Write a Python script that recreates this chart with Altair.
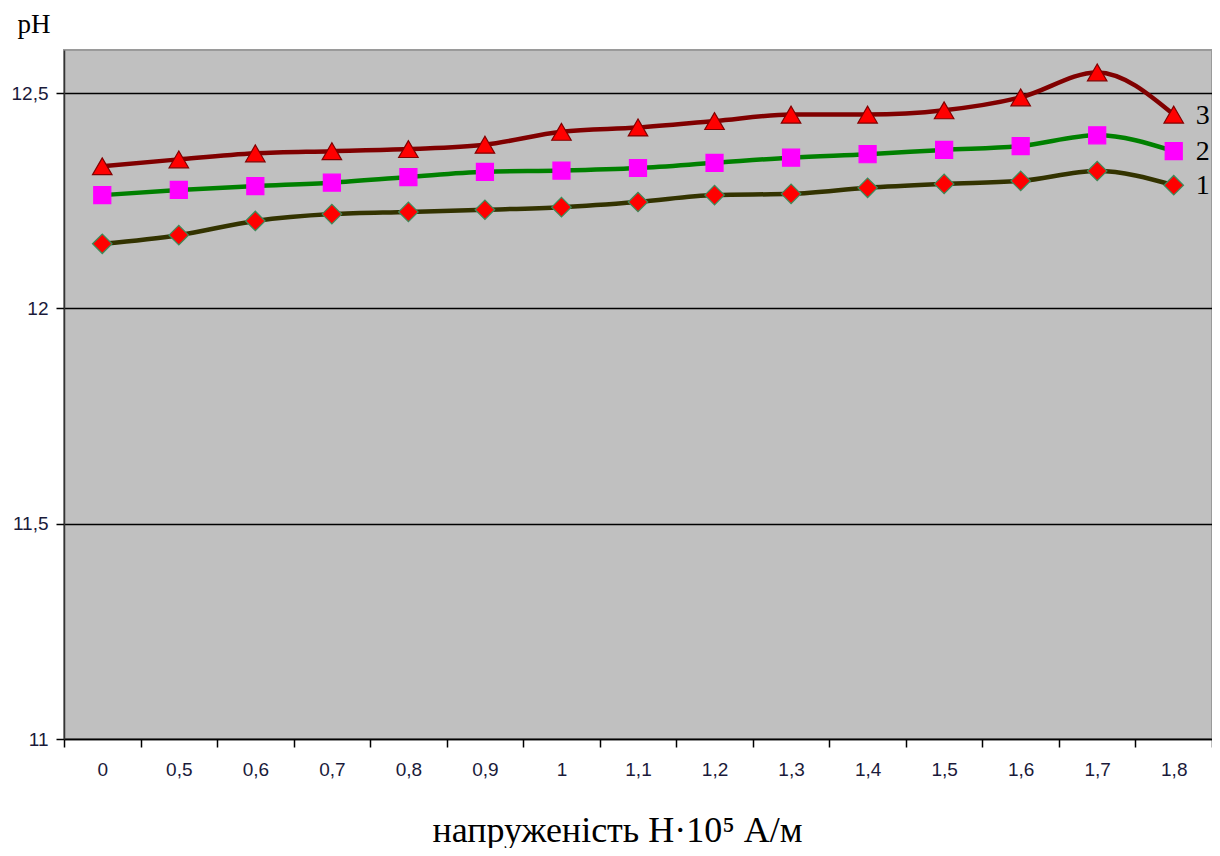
import altair as alt
import pandas as pd

x_labels = ["0", "0,5", "0,6", "0,7", "0,8", "0,9", "1", "1,1", "1,2", "1,3",
            "1,4", "1,5", "1,6", "1,7", "1,8"]
ph_1 = [12.150, 12.170, 12.203, 12.219, 12.224, 12.229, 12.235, 12.247, 12.263,
        12.266, 12.280, 12.289, 12.296, 12.319, 12.286]
ph_2 = [12.263, 12.275, 12.284, 12.292, 12.305, 12.317, 12.320, 12.326, 12.338,
        12.350, 12.358, 12.368, 12.377, 12.402, 12.365]
ph_3 = [12.330, 12.346, 12.360, 12.365, 12.370, 12.380, 12.410, 12.420, 12.435,
        12.450, 12.450, 12.460, 12.490, 12.548, 12.450]
series_names = ["1", "2", "3"]
y_ticks = [11, 11.5, 12, 12.5]

rows = []
for name, vals in zip(series_names, [ph_1, ph_2, ph_3]):
    for xl, v in zip(x_labels, vals):
        rows.append({"H": xl, "pH": v, "series": name})
df = pd.DataFrame(rows)

styles = {
    "1": dict(line="#333300", fill="#FF0000", stroke="#3C8C5A", shape="diamond", size=380),
    "2": dict(line="#008000", fill="#FF00FF", stroke="#FF00FF", shape="square", size=290),
    "3": dict(line="#800000", fill="#FF0000", stroke="#800000", shape="triangle-up", size=380),
}

SERIF = '"Liberation Serif", "Times New Roman", serif'
SANS = '"Liberation Sans", Arial, sans-serif'

x_enc = alt.X(
    "H:N", sort=x_labels, bandPosition=0.5,
    scale=alt.Scale(type="band", domain=x_labels, paddingInner=0, paddingOuter=0),
    axis=alt.Axis(
        title="напруженість H·10⁵ А/м", labelAngle=0, tickBand="extent",
        tickSize=8, tickColor="#000000", tickWidth=1.5,
        domainColor="#000000", domainWidth=1.5,
        labelFont=SANS, labelFontSize=19, labelColor="#1a1a3a", labelPadding=13,
        titleFont=SERIF, titleFontSize=36,
        titleFontWeight="normal", titleColor="#000000",
        titleX=553, titleY=102, titleAlign="center", titleBaseline="alphabetic",
        titleAnchor="start", grid=False,
    ),
)
y_enc = alt.Y(
    "pH:Q",
    scale=alt.Scale(domain=[11, 12.6], nice=False, zero=False),
    axis=alt.Axis(
        title="pH", values=y_ticks, titleAngle=0,
        labelExpr="replace(format(datum.value, '.1~f'), '.', ',')",
        tickSize=8, tickColor="#000000", tickWidth=1.5,
        domainColor="#333333", domainWidth=1.5,
        grid=True, gridColor="#000000", gridWidth=1.5,
        labelFont=SANS, labelFontSize=19, labelColor="#1a1a3a", labelPadding=8,
        titleFont=SERIF, titleFontSize=27,
        titleFontWeight="normal", titleColor="#000000",
        titleX=-47, titleY=-18, titleAlign="left", titleBaseline="alphabetic",
        titleAnchor="start",
    ),
)

layers = []
for name in series_names:
    st = styles[name]
    base = alt.Chart(df).transform_filter(alt.datum.series == name)
    layers.append(
        base.mark_line(color=st["line"], strokeWidth=4.5, interpolate="monotone").encode(
            x=x_enc, y=y_enc)
    )
for name in series_names:
    st = styles[name]
    base = alt.Chart(df).transform_filter(alt.datum.series == name)
    layers.append(
        base.mark_point(shape=st["shape"], size=st["size"], filled=True,
                        fill=st["fill"], stroke=st["stroke"], strokeWidth=1.2,
                        opacity=1).encode(x=x_enc, y=y_enc)
    )

last = df[df["H"] == x_labels[-1]]
labels = alt.Chart(last).mark_text(
    align="left", baseline="middle", dx=22, dy=1,
    font=SERIF, fontSize=28, color="#000000",
).encode(x=x_enc, y=y_enc, text="series:N")
layers.append(labels)

chart = alt.layer(*layers).properties(
    width=1148, height=689,
    autosize=alt.AutoSizeParams(type="none"),
    padding={"left": 56, "top": 42, "right": 0, "bottom": 109},
    background="#FFFFFF",
).configure_view(
    fill="#C0C0C0", stroke="#9A9A9A", strokeWidth=2,
)

chart.save("out.html", embed_options={"renderer": "svg", "actions": False})
